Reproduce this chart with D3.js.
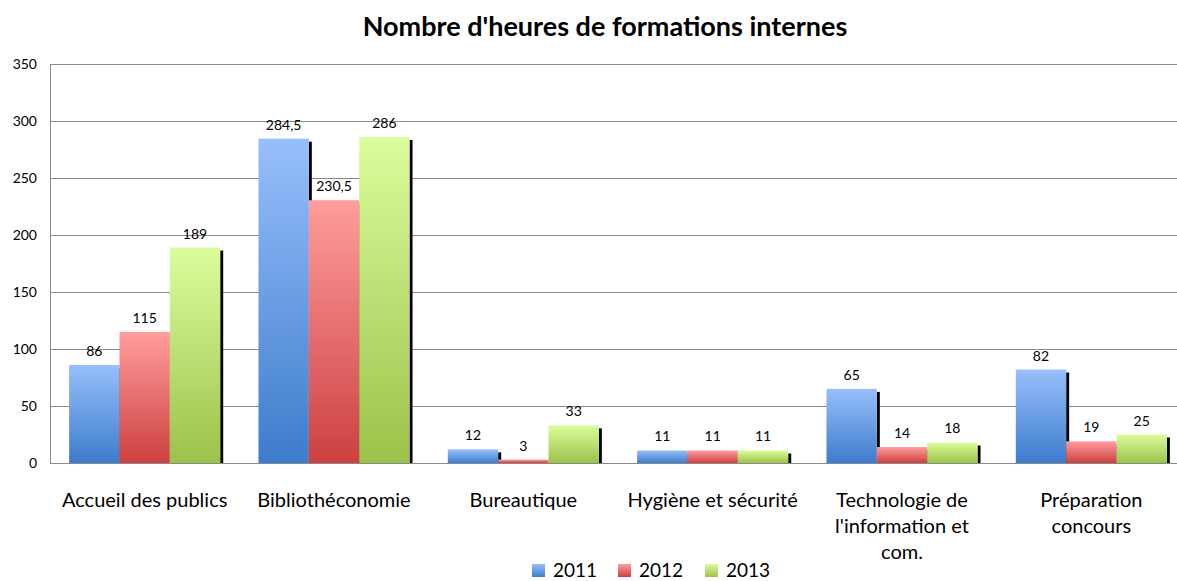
<!DOCTYPE html>
<html>
<head>
<meta charset="utf-8">
<script src="https://cdn.jsdelivr.net/npm/d3@7"></script>
<style>
  body { margin: 0; background: #fff; }
  text { font-family: Lato, "Open Sans", sans-serif; fill: #000; }
</style>
</head>
<body>
<script>
// chart data
var categories = [
    ["Accueil des publics"],
    ["Bibliothéconomie"],
    ["Bureautique"],
    ["Hygiène et sécurité"],
    ["Technologie de", "l'information et", "com."],
    ["Préparation", "concours"]
];
var years = ["2011", "2012", "2013"];
var values2011 = [86, 284.5, 12, 11, 65, 82];
var values2012 = [115, 230.5, 3, 11, 14, 19];
var values2013 = [189, 286, 33, 11, 18, 25];
var yTicks = [0, 50, 100, 150, 200, 250, 300, 350];

window.onload = drawChart;

function drawChart(){
    var series = [values2011, values2012, values2013];
    var colors = [
        ["#97bffb", "#3d7ccc"],
        ["#ff9d9d", "#cd4040"],
        ["#dbfd9d", "#9cc24a"]
    ];

    var width = 1177, height = 581;
    //the plot runs a little past the right edge of the picture
    var plotLeft = 50, plotRight = 1186, plotTop = 64, plotBottom = 463;

    var svg = d3.select("body").append("svg")
        .attr("width", width)
        .attr("height", height);

    //gradients for each series
    var defs = svg.append("defs");
    colors.forEach(function(c, i){
        var g = defs.append("linearGradient")
            .attr("id", "grad" + i)
            .attr("x1", 0).attr("y1", 0).attr("x2", 0).attr("y2", 1);
        g.append("stop").attr("offset", "0%").attr("stop-color", c[0]);
        g.append("stop").attr("offset", "100%").attr("stop-color", c[1]);
    });

    var x = d3.scaleBand()
        .domain(d3.range(categories.length))
        .range([plotLeft, plotRight]);

    var x1 = d3.scaleBand()
        .domain(d3.range(years.length))
        .range([0, x.bandwidth()])
        .paddingOuter(0.38)
        .paddingInner(0);

    var y = d3.scaleLinear()
        .domain([0, 350])
        .range([plotBottom, plotTop]);

    //title
    svg.append("text")
        .attr("x", 605)
        .attr("y", 36)
        .attr("text-anchor", "middle")
        .style("font-size", "27px")
        .style("font-weight", "bold")
        .text("Nombre d'heures de formations internes");

    //gridlines
    svg.selectAll(".grid")
        .data(yTicks)
        .enter()
        .append("line")
        .attr("x1", plotLeft)
        .attr("x2", width)
        .attr("y1", function(d){ return Math.round(y(d)) + 0.5; })
        .attr("y2", function(d){ return Math.round(y(d)) + 0.5; })
        .attr("stroke", "#8a8a8a")
        .attr("stroke-width", 1);

    //y axis line
    svg.append("line")
        .attr("x1", plotLeft + 0.5).attr("x2", plotLeft + 0.5)
        .attr("y1", plotTop).attr("y2", plotBottom)
        .attr("stroke", "#8a8a8a");

    //y tick labels
    svg.selectAll(".ytick")
        .data(yTicks)
        .enter()
        .append("text")
        .attr("x", 37)
        .attr("y", function(d){ return y(d) + 5; })
        .attr("text-anchor", "end")
        .style("font-size", "14px")
        .text(function(d){ return d; });

    //bars with shadows
    var fmt = function(v){ return String(v).replace(".", ","); };
    categories.forEach(function(cat, ci){
        series.forEach(function(vals, si){
            var bx = x(ci) + x1(si),
                bw = x1.bandwidth(),
                by = y(vals[ci]);
            svg.append("rect")
                .attr("x", bx + bw)
                .attr("y", Math.min(by + 3, plotBottom))
                .attr("width", 3)
                .attr("height", Math.max(plotBottom - by - 3, 0))
                .attr("fill", "#000");
            svg.append("rect")
                .attr("x", bx)
                .attr("y", by)
                .attr("width", bw)
                .attr("height", plotBottom - by)
                .attr("fill", "url(#grad" + si + ")");
            svg.append("text")
                .attr("x", bx + bw / 2)
                .attr("y", by - 9)
                .attr("text-anchor", "middle")
                .style("font-size", "14px")
                .text(fmt(vals[ci]));
        });
    });

    //category labels
    categories.forEach(function(lines, ci){
        var t = svg.append("text")
            .attr("text-anchor", "middle")
            .style("font-size", "20px");
        lines.forEach(function(l, li){
            t.append("tspan")
                .attr("x", x(ci) + x.bandwidth() / 2)
                .attr("y", 507 + li * 26)
                .text(l);
        });
    });

    //legend
    var legendX = [532, 618, 705];
    years.forEach(function(yr, i){
        svg.append("rect")
            .attr("x", legendX[i])
            .attr("y", 564)
            .attr("width", 13)
            .attr("height", 13)
            .attr("fill", "url(#grad" + i + ")");
        svg.append("text")
            .attr("x", legendX[i] + 21)
            .attr("y", 577)
            .style("font-size", "19px")
            .text(yr);
    });
}
</script>
</body>
</html>
